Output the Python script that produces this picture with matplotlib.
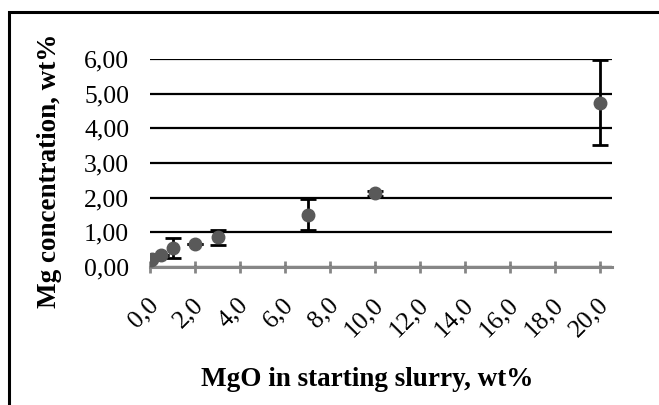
#!/usr/bin/env python3
"""
Mg concentration vs MgO in starting slurry (scatter with error bars)
"""

import matplotlib
matplotlib.use('Agg')
import matplotlib.pyplot as plt
import matplotlib.transforms as mtransforms
from matplotlib.patches import Rectangle
from matplotlib.ticker import FuncFormatter

# data
mgo_wt = [0.05, 0.1, 0.5, 1.0, 2.0, 3.0, 7.0, 10.0, 20.0]
mg_conc = [0.18, 0.22, 0.33, 0.53, 0.66, 0.85, 1.51, 2.12, 4.74]
mg_err = [0.0, 0.0, 0.0, 0.29, 0.0, 0.21, 0.45, 0.07, 1.23]

x_ticks = [0, 2, 4, 6, 8, 10, 12, 14, 16, 18, 20]
y_ticks = [0, 1, 2, 3, 4, 5, 6]

plt.rcParams['font.family'] = ['Liberation Serif', 'DejaVu Serif']

fig = plt.figure(figsize=(6.59, 4.05), dpi=100)
ax = fig.add_axes([150 / 659, 1 - 266.7 / 405, 462 / 659, (266.7 - 59.3) / 405])

ax.errorbar(mgo_wt, mg_conc, yerr=mg_err, fmt='o', color='#595959',
            markersize=9, ecolor='black', elinewidth=2, capsize=6,
            capthick=2, zorder=3)

ax.set_xlim(0, 20.53)
ax.set_ylim(0, 6)
ax.set_xticks(x_ticks)
ax.set_yticks(y_ticks)
ax.xaxis.set_major_formatter(FuncFormatter(lambda v, p: f'{v:.1f}'.replace('.', ',')))
ax.yaxis.set_major_formatter(FuncFormatter(lambda v, p: f'{v:.2f}'.replace('.', ',')))

ax.grid(True, axis='y', color='black', linewidth=1.6)
ax.set_axisbelow(True)
for side in ['top', 'right', 'left']:
    ax.spines[side].set_visible(False)
ax.spines['bottom'].set_color('#868686')
ax.spines['bottom'].set_linewidth(2.2)
ax.spines['bottom'].set_zorder(2)

ax.tick_params(axis='x', direction='inout', length=9, width=2, color='#868686',
               labelsize=18.5, pad=0)
ax.tick_params(axis='y', length=0, labelsize=18.5, pad=15)

# rotated x labels: end of text sits a bit right of and below the tick
shift = mtransforms.ScaledTranslation(5 / 100, -28 / 100, fig.dpi_scale_trans)
for lbl in ax.get_xticklabels():
    lbl.set_rotation(45)
    lbl.set_ha('right')
    lbl.set_va('center')
    lbl.set_rotation_mode('anchor')
    lbl.set_transform(lbl.get_transform() + shift)

fig.text(367 / 659, 1 - 380 / 405, 'MgO in starting slurry, wt%', fontsize=19.5,
         fontweight='bold', ha='center', va='center')
fig.text(50 / 659, 1 - 171 / 405, 'Mg concentration, wt%', fontsize=19.5,
         fontweight='bold', ha='center', va='center', rotation=90)

# chart frame (cropped at right and bottom)
fig.patches.append(Rectangle((9 / 659, -0.1), 1.2, 1 - 12 / 405 + 0.1,
                             transform=fig.transFigure, fill=False,
                             edgecolor='black', linewidth=2.2, clip_on=False))

plt.savefig('out.png', dpi=100)
plt.close()
